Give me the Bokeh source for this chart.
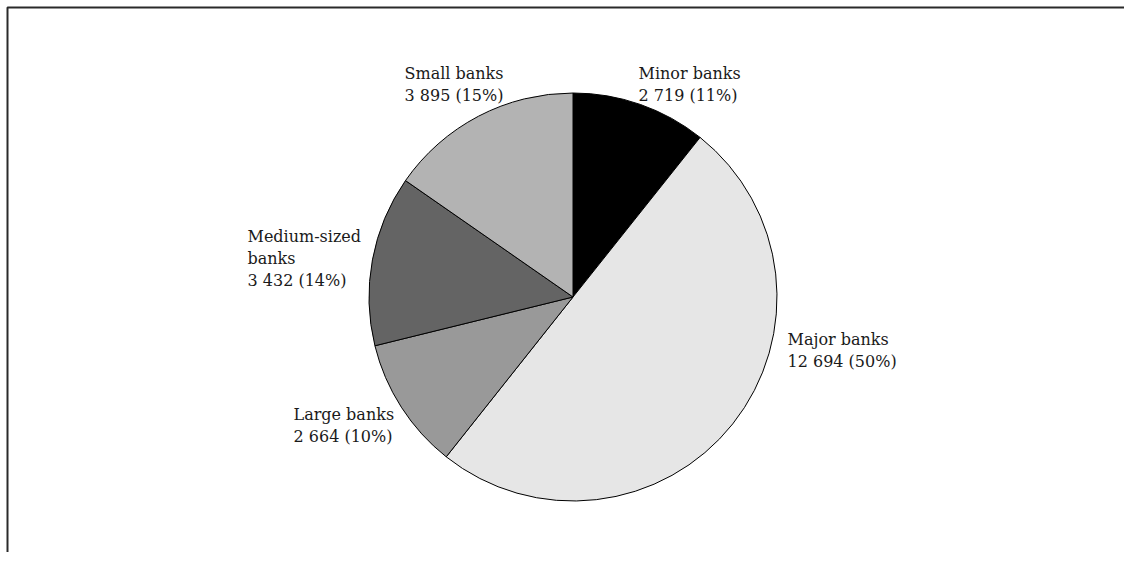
import math
from bokeh.plotting import figure
from bokeh.models import ColumnDataSource, BoxAnnotation, Range1d
from bokeh.core.properties import value
from bokeh.embed import file_html
from bokeh.resources import INLINE

# ---- data ----
categories = ["Minor banks", "Major banks", "Large banks", "Medium-sized\nbanks", "Small banks"]
amounts = [2719, 12694, 2664, 3432, 3895]
colors = ["#000000", "#e6e6e6", "#999999", "#646464", "#b3b3b3"]

# ---- layout (pixels) ----
W, H = 1124, 552
CX, CY = 572.5, H - 296.5
R = 204
label_anchor = [(638, 73), (787, 339), (293, 414), (247, 236), (404, 73)]  # (x, first baseline from top)
LINE_H = 22

total = sum(amounts)
starts, ends = [], []
cum = 0
for a in amounts:
    starts.append(math.pi / 2 - 2 * math.pi * cum / total)
    cum += a
    ends.append(math.pi / 2 - 2 * math.pi * cum / total)

src = ColumnDataSource(dict(x=[CX] * len(amounts), y=[CY] * len(amounts),
                            start=starts, end=ends, color=colors))

p = figure(width=W, height=H, output_backend="svg", toolbar_location=None,
           x_range=Range1d(0, W), y_range=Range1d(0, H), min_border=0)
p.axis.visible = False
p.grid.visible = False
p.outline_line_color = None
p.background_fill_color = "white"
p.border_fill_color = "white"

p.wedge(x="x", y="y", radius=R, start_angle="start", end_angle="end", direction="clock",
        fill_color="color", line_color="black", line_width=1, source=src)

def fmt(n):
    return f"{n:,}".replace(",", " ")

tx, ty, tt = [], [], []
for name, a, (ax, ay) in zip(categories, amounts, label_anchor):
    pct = round(100 * a / total)
    lines = name.split("\n") + [f"{fmt(a)} ({pct}%)"]
    for i, ln in enumerate(lines):
        tx.append(ax)
        ty.append(H - (ay + i * LINE_H))
        tt.append(ln)

p.text(x=tx, y=ty, text=tt, text_font=value("DejaVu Serif"), text_font_size="16px",
       text_color="#1a1a1a", text_baseline="alphabetic", text_align="left")

# outer frame (only its top and left edges fall inside the window)
p.add_layout(BoxAnnotation(left=7, right=W + 100, top=H - 7, bottom=-100,
                           fill_alpha=0, line_color="#2a2a2a", line_alpha=1.0, line_width=2))

open("out.html", "w").write(file_html(p, INLINE))
